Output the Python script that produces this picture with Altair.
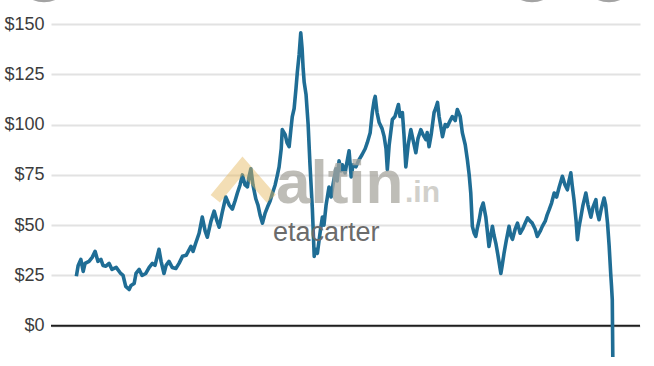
import altair as alt
import pandas as pd

# Oil price (USD / barrel)
years = [
    2000.01, 2000.08, 2000.18, 2000.27, 2000.34, 2000.49, 2000.61, 2000.72, 2000.83, 2000.94,
    2001.02, 2001.13, 2001.25, 2001.36, 2001.52, 2001.69, 2001.78, 2001.88, 2002.01, 2002.08,
    2002.20, 2002.27, 2002.39, 2002.50, 2002.64, 2002.77, 2002.89, 2002.99, 2003.14, 2003.22,
    2003.33, 2003.41, 2003.52, 2003.64, 2003.78, 2003.90, 2004.03, 2004.17, 2004.35, 2004.43,
    2004.53, 2004.66, 2004.78, 2004.89, 2004.97, 2005.11, 2005.23, 2005.34, 2005.42, 2005.53,
    2005.67, 2005.80, 2005.92, 2006.02, 2006.11, 2006.21, 2006.30, 2006.40, 2006.49, 2006.55,
    2006.62, 2006.70, 2006.81, 2006.89, 2006.97, 2007.06, 2007.16, 2007.25, 2007.35, 2007.44,
    2007.54, 2007.61, 2007.69, 2007.77, 2007.81, 2007.92, 2007.99, 2008.07, 2008.14, 2008.19,
    2008.26, 2008.33, 2008.38, 2008.45, 2008.51, 2008.56, 2008.60, 2008.64, 2008.71, 2008.79,
    2008.86, 2008.95, 2009.02, 2009.07, 2009.14, 2009.20, 2009.26, 2009.33, 2009.39, 2009.47,
    2009.58, 2009.66, 2009.73, 2009.84, 2009.89, 2009.96, 2010.04, 2010.09, 2010.19, 2010.27,
    2010.34, 2010.42, 2010.49, 2010.60, 2010.72, 2010.83, 2010.95, 2011.03, 2011.14, 2011.22,
    2011.29, 2011.33, 2011.40, 2011.48, 2011.59, 2011.67, 2011.74, 2011.79, 2011.86, 2011.98,
    2012.08, 2012.21, 2012.27, 2012.36, 2012.42, 2012.49, 2012.58, 2012.68, 2012.77, 2012.87,
    2012.95, 2013.06, 2013.14, 2013.25, 2013.30, 2013.37, 2013.45, 2013.56, 2013.62, 2013.69,
    2013.75, 2013.88, 2013.98, 2014.06, 2014.17, 2014.25, 2014.36, 2014.44, 2014.55, 2014.63,
    2014.74, 2014.82, 2014.89, 2014.95, 2015.01, 2015.08, 2015.14, 2015.19, 2015.27, 2015.34,
    2015.42, 2015.52, 2015.57, 2015.64, 2015.70, 2015.77, 2015.83, 2015.90, 2015.98, 2016.09,
    2016.14, 2016.21, 2016.29, 2016.40, 2016.46, 2016.53, 2016.63, 2016.72, 2016.82, 2016.91,
    2017.01, 2017.10, 2017.20, 2017.28, 2017.39, 2017.47, 2017.58, 2017.66, 2017.77, 2017.84,
    2017.92, 2018.01, 2018.11, 2018.20, 2018.30, 2018.42, 2018.52, 2018.61, 2018.67, 2018.74,
    2018.79, 2018.86, 2018.94, 2018.99, 2019.05, 2019.12, 2019.20, 2019.31, 2019.39, 2019.50,
    2019.58, 2019.69, 2019.73, 2019.81, 2019.89, 2020.00, 2020.06, 2020.13, 2020.19, 2020.25,
    2020.28, 2020.31, 2020.33,
]
prices = [
    24.6, 30, 33, 27, 31, 32, 34, 37, 32, 33,
    30, 29.6, 31, 28, 29, 26, 25, 19.6, 18, 20,
    21, 26, 28, 25, 26, 29, 31, 30, 38, 32,
    26, 30, 32, 29, 28.5, 31, 34.5, 35, 39.5, 37,
    41, 46, 54, 47, 44, 52, 57, 52, 49, 56,
    64, 60, 58, 62, 66, 70, 75, 70, 69, 74,
    78, 70, 63, 60, 55, 51, 56, 59, 62, 66,
    70, 74, 79, 88, 97.5, 95, 91, 89, 98, 104,
    108, 118, 126, 135, 145.6, 138, 128, 121, 115, 100,
    80, 58, 34.5, 38, 36, 42, 48, 54, 50, 60,
    69, 64, 70, 78, 72, 82, 77, 80, 76, 82,
    87, 74, 80, 79, 82.6, 85, 88, 91, 96, 106,
    112, 114, 106, 101, 98, 94, 88, 77.6, 90, 102.5,
    104, 110, 104, 106, 95, 79, 90, 97.5, 92, 86,
    93, 97.5, 95, 92.5, 96, 89, 95, 106, 108, 111,
    104, 94, 100, 99, 102, 104, 102, 107.5, 104, 96,
    90, 82.6, 75, 66, 49.4, 46, 44.4, 48, 52.7, 58,
    61, 54, 48, 39.4, 44, 49.4, 45, 41, 35, 26,
    30, 36, 42, 49.4, 45, 43, 48, 51, 46, 48,
    51, 53.6, 52, 51, 48, 44.4, 47, 49.4, 52, 55,
    57.7, 61, 66, 64, 69, 74.3, 70, 67.6, 72, 76,
    70, 62.7, 52, 42.8, 49, 54, 60, 66, 60, 54,
    59, 62.7, 57, 52.7, 58, 63.5, 60, 51, 40, 26,
    20, 13, -15.5,
]
tick_values = [0, 25, 50, 75, 100, 125, 150]

df = pd.DataFrame({"year": years, "price": prices})

FONT = "Liberation Sans"
PAD_L, PAD_T = 51, 24

x_scale = alt.Scale(domain=[1999.05, 2021.36], nice=False, zero=False)
y_scale = alt.Scale(domain=[-20, 150], nice=False, zero=False)

line = alt.Chart(df).mark_line(color="#1f6d95", strokeWidth=3.6, strokeJoin="round").encode(
    x=alt.X("year:Q", scale=x_scale, axis=None),
    y=alt.Y(
        "price:Q",
        scale=y_scale,
        axis=alt.Axis(
            values=tick_values,
            labelExpr="'$' + datum.value",
            grid=True,
            gridColor="#e2e2e2",
            gridWidth=2,
            domain=False,
            ticks=False,
            labelPadding=7,
            labelFontSize=18,
            labelColor="#3c3c3c",
            labelFont=FONT,
            title=None,
        ),
    ),
)

zero = alt.Chart(pd.DataFrame({"v": [0]})).mark_rule(color="#1e1e1e", strokeWidth=2).encode(
    y=alt.Y("v:Q", scale=y_scale)
)

one = pd.DataFrame({"i": [0]})


def top_circle(cx):
    return alt.Chart(one).mark_circle(color="#a3a3a3", opacity=1, size=3420).encode(
        x=alt.value(cx - PAD_L), y=alt.value(-27 - PAD_T)
    )


logo = alt.Chart(one).mark_point(
    shape="M -1 0.55 L -0.05 -0.6 L 0.95 0.55",
    filled=False,
    stroke="#e6b85c",
    strokeWidth=12,
    opacity=0.45,
    size=3300,
).encode(x=alt.value(244 - PAD_L), y=alt.value(183 - PAD_T))

altin = alt.Chart(one).mark_text(
    text="altin",
    font=FONT,
    fontSize=62,
    fontWeight="bold",
    color="#a9a7a0",
    opacity=0.75,
    align="left",
    baseline="alphabetic",
).encode(x=alt.value(276 - PAD_L), y=alt.value(203 - PAD_T))

dotin = alt.Chart(one).mark_text(
    text=".in",
    font=FONT,
    fontSize=30,
    fontWeight="bold",
    color="#c9c8c2",
    opacity=0.85,
    align="left",
    baseline="alphabetic",
).encode(x=alt.value(405 - PAD_L), y=alt.value(202 - PAD_T))

eta = alt.Chart(one).mark_text(
    text="etacarter",
    font=FONT,
    fontSize=27,
    color="#6b6b6b",
    align="left",
    baseline="alphabetic",
).encode(x=alt.value(273 - PAD_L), y=alt.value(241 - PAD_T))

chart = alt.layer(
    zero, line, logo, altin, dotin, eta, top_circle(44), top_circle(532), top_circle(609)
).properties(
    width=654 - PAD_L - 14,
    height=366 - PAD_T,
    autosize=alt.AutoSizeParams(type="none"),
    padding={"left": PAD_L, "top": PAD_T, "right": 14, "bottom": 0},
    background="white",
).configure_view(stroke=None)

chart.save("out.html", embed_options={"renderer": "svg", "actions": False})
